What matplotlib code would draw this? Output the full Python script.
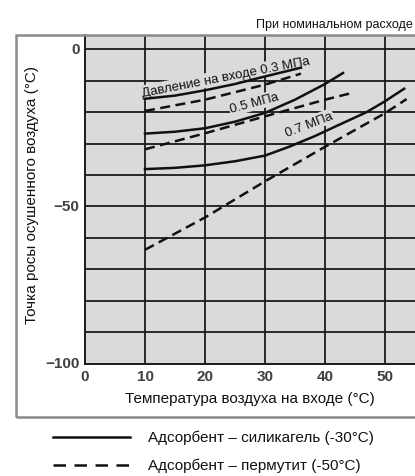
import matplotlib
matplotlib.use("Agg")
import matplotlib.pyplot as plt
from matplotlib import font_manager
from matplotlib.patches import Rectangle

# values
t_03_si = [10, 15, 20, 25, 30, 36]
dp_03_si = [-15.7, -14.7, -13.0, -11.0, -8.6, -5.8]
t_03_pe = [10, 20, 30, 36]
dp_03_pe = [-19.6, -16.0, -11.2, -7.7]

t_05_si = [10, 15, 20, 25, 30, 35, 40, 43]
dp_05_si = [-26.8, -26.2, -25.1, -23.0, -20.2, -16.0, -11.0, -7.5]
t_05_pe = [10, 20, 30, 40, 44.4]
dp_05_pe = [-31.8, -26.7, -21.3, -16.0, -13.9]

t_07_si = [10, 15, 20, 25, 30, 34, 38.3, 42, 46.9, 50, 53.2]
dp_07_si = [-38.1, -37.7, -36.9, -35.6, -33.8, -31.0, -27.6, -24.3, -20.0, -16.5, -12.5]
t_07_pe = [10, 20, 30, 40, 50, 53.6]
dp_07_pe = [-63.8, -53.5, -42.0, -31.0, -20.3, -15.8]

xticks = [0, 10, 20, 30, 40, 50]
yticks = [0, -50, -100]
ytick_labels = ["0", "\u221250", "\u2212100"]

names = {f.name for f in font_manager.fontManager.ttflist}
if "Liberation Sans Narrow" in names:
    main_font = ["Liberation Sans Narrow", "DejaVu Sans"]
    fs_big, fs_small, fs_title = 12.5, 10.5, 10.5
else:
    main_font = ["Liberation Sans", "DejaVu Sans"]
    fs_big, fs_small, fs_title = 11, 9.5, 9

W, H = 415, 477
fig = plt.figure(figsize=(W / 100, H / 100), dpi=100)

def fx(px):
    return px / W

def fy(py):
    return 1 - py / H

# outer frame
fig.patches.append(Rectangle((fx(16), fy(418)), fx(420 - 16), fy(36) - fy(418),
                             transform=fig.transFigure, fill=False,
                             edgecolor="#8a8a8a", linewidth=1.8, clip_on=False))

ax = fig.add_axes([fx(85), fy(364.5), 1 - fx(85), fy(36) - fy(364.5)])
ax.set_facecolor("#dadada")
ax.set_xlim(0, 55)
ax.set_ylim(-100, 4.6)

ax.set_xticks(xticks)
ax.set_yticks(yticks)
ax.set_xticklabels([str(v) for v in xticks], fontfamily="Liberation Sans",
                   fontweight="bold", fontsize=11, color="#404040")
ax.set_yticklabels(ytick_labels, fontfamily="Liberation Sans",
                   fontweight="bold", fontsize=11, color="#404040")
ax.tick_params(length=0, pad=4)
for lab in ax.get_yticklabels():
    lab.set_verticalalignment("center")

for v in range(10, 55, 10):
    ax.axvline(v, color="#1a1a1a", lw=1.3, zorder=1)
for v in range(-90, 5, 10):
    ax.axhline(v, color="#1a1a1a", lw=1.3, zorder=1)

for side in ["left", "bottom"]:
    ax.spines[side].set_color("#1a1a1a")
    ax.spines[side].set_linewidth(1.4)
ax.spines["top"].set_visible(False)
ax.spines["right"].set_visible(False)

dash = (0, (4.0, 2.2))
lw = 1.8
ax.plot(t_03_si, dp_03_si, color="#111111", lw=lw, zorder=4)
ax.plot(t_03_pe, dp_03_pe, color="#111111", lw=lw, ls=dash, zorder=4)
ax.plot(t_05_si, dp_05_si, color="#111111", lw=lw, zorder=4)
ax.plot(t_05_pe, dp_05_pe, color="#111111", lw=lw, ls=dash, zorder=4)
ax.plot(t_07_si, dp_07_si, color="#111111", lw=lw, zorder=4)
ax.plot(t_07_pe, dp_07_pe, color="#111111", lw=lw, ls=dash, zorder=4)

box = dict(facecolor="#dadada", edgecolor="none", pad=1.0)
ax.text(23.4, -8.7, "Давление на входе 0.3 МПа", rotation=11, ha="center", va="center",
        fontsize=fs_small, family=main_font, color="#111111", bbox=box, zorder=3,
        rotation_mode="anchor")
ax.text(28.3, -17.0, "0.5 МПа", rotation=15, ha="center", va="center",
        fontsize=fs_small, family=main_font, color="#111111", bbox=box, zorder=3,
        rotation_mode="anchor")
ax.text(37.3, -23.8, "0.7 МПа", rotation=21, ha="center", va="center",
        fontsize=fs_small, family=main_font, color="#111111", bbox=box, zorder=3,
        rotation_mode="anchor")

fig.text(fx(413), fy(25), "При номинальном расходе", ha="right", va="center",
         fontsize=fs_title, family=main_font, color="#111111")
fig.text(fx(250), fy(399), "Температура воздуха на входе (°С)", ha="center", va="center",
         fontsize=fs_big, family=main_font, color="#111111")
fig.text(fx(32), fy(195), "Точка росы осушенного воздуха (°С)", ha="center", va="center",
         rotation=90, fontsize=fs_big, family=main_font, color="#111111")

# legend drawn under the frame
leg = fig.add_axes([0, 0, 1, fy(420)])
leg.set_xlim(0, W)
leg.set_ylim(H, 420)
leg.axis("off")
leg.plot([53, 130], [438, 438], color="#111111", lw=1.8)
leg.plot([53, 130], [466, 466], color="#111111", lw=1.8, ls=(0, (5.0, 3.4)))
leg.text(148, 438, "Адсорбент – силикагель (-30°С)", va="center",
         fontsize=fs_big, family=main_font, color="#111111")
leg.text(148, 466, "Адсорбент – пермутит (-50°С)", va="center",
         fontsize=fs_big, family=main_font, color="#111111")

fig.savefig("out.png", dpi=100)
